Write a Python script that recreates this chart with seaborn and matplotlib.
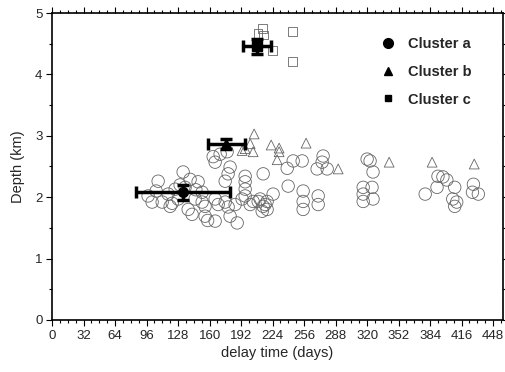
import matplotlib
matplotlib.use("Agg")
import matplotlib.pyplot as plt
import seaborn as sns
import pandas as pd
from matplotlib.lines import Line2D
from matplotlib.ticker import MultipleLocator

# ---------------- data ----------------
a_time = [97.5, 101.6, 107.7, 111.8, 105.7, 119.9, 125.0, 117.9, 128.0, 133.1,
          140.2, 138.2, 145.3, 152.4, 135.1, 142.2, 148.3, 152.4, 155.4, 155.4,
          163.6, 170.7, 177.8, 165.6, 165.6, 168.7, 165.6, 175.8, 178.8, 180.8,
          180.8, 178.8, 175.8, 185.9, 193.0, 196.1, 196.1, 196.1, 196.1, 201.2,
          204.2, 211.3, 214.4, 218.4, 224.5, 218.4, 213.4, 214.4, 209.3, 216.4,
          238.8, 244.9, 254.0, 239.8, 255.0, 255.0, 255.0, 269.2, 274.3, 275.3,
          279.4, 270.3, 270.3, 320.0, 323.0, 326.0, 316.0, 325.0, 316.0, 316.0,
          326.0, 379.0, 391.0, 392.0, 397.0, 401.0, 409.0, 407.0, 411.0, 409.0,
          428.0, 427.0, 433.0, 130.0, 122.0, 146.0, 158.0, 188.0]
a_depth = [2.02, 1.92, 2.26, 1.92, 2.10, 1.85, 2.13, 2.05, 1.97, 2.41,
           2.29, 1.80, 1.97, 1.92, 2.16, 1.72, 2.25, 2.08, 1.85, 1.69,
           2.66, 2.70, 2.74, 2.57, 1.97, 1.88, 1.61, 1.92, 1.84, 1.69,
           2.49, 2.38, 2.26, 1.88, 1.97, 2.02, 2.34, 2.25, 2.13, 1.88,
           1.93, 1.97, 1.85, 1.93, 2.05, 1.80, 1.77, 2.38, 1.93, 1.88,
           2.47, 2.59, 2.59, 2.18, 2.10, 1.93, 1.80, 2.46, 2.57, 2.67,
           2.46, 2.02, 1.88, 2.62, 2.59, 2.41, 2.16, 2.16, 2.05, 1.93,
           1.97, 2.05, 2.16, 2.34, 2.33, 2.28, 2.16, 1.97, 1.92, 1.85,
           2.21, 2.08, 2.05, 2.20, 1.90, 2.12, 1.62, 1.58]

b_time = [205.2, 196.1, 201.2, 204.2, 222.5, 230.6, 230.6, 228.6, 258.0,
          290.6, 342.4, 386.0, 428.8, 193.0]
b_depth = [3.03, 2.79, 2.87, 2.74, 2.85, 2.80, 2.74, 2.61, 2.88,
           2.46, 2.57, 2.57, 2.54, 2.76]

c_time = [209.0, 214.0, 215.0, 224.0, 244.0, 244.0]
c_depth = [4.67, 4.75, 4.64, 4.39, 4.70, 4.21]

mean_time = [133.0, 177.0, 208.0]
mean_depth = [2.08, 2.87, 4.46]
mean_time_err = [48.0, 19.0, 14.0]
mean_depth_err = [0.12, 0.08, 0.12]
mean_markers = ["o", "^", "s"]

legend_labels = ["Cluster a", "Cluster b", "Cluster c"]
xticks = list(range(0, 449, 32))
yticks = [0, 1, 2, 3, 4, 5]

# ---------------- plot ----------------
sns.set_theme(style="ticks")
plt.rcParams["font.family"] = ["Liberation Sans", "DejaVu Sans"]

fig = plt.figure(figsize=(5.06, 3.72), dpi=100)
ax = fig.add_axes([0.103, 0.140, 0.891, 0.825])

da = pd.DataFrame({"t": a_time, "d": a_depth})
db = pd.DataFrame({"t": b_time, "d": b_depth})
dc = pd.DataFrame({"t": c_time, "d": c_depth})

sns.scatterplot(data=da, x="t", y="d", marker="o", s=80, facecolor="none",
                edgecolor="0.4", linewidth=0.6, ax=ax, zorder=2)
sns.scatterplot(data=db, x="t", y="d", marker="^", s=50, facecolor="none",
                edgecolor="0.4", linewidth=0.6, ax=ax, zorder=2)
sns.scatterplot(data=dc, x="t", y="d", marker="s", s=38, facecolor="none",
                edgecolor="0.4", linewidth=0.6, ax=ax, zorder=2)

for t, d, te, de, m in zip(mean_time, mean_depth, mean_time_err,
                           mean_depth_err, mean_markers):
    ax.errorbar(t, d, xerr=te, yerr=de, fmt=m, color="black", ms=7,
                elinewidth=2.5, capsize=4, capthick=2.5, zorder=5)

ax.set_xlim(0, 458)
ax.set_ylim(0, 5)
ax.set_xticks(xticks)
ax.set_yticks(yticks)
ax.xaxis.set_minor_locator(MultipleLocator(8))
ax.yaxis.set_minor_locator(MultipleLocator(0.5))
ax.tick_params(which="both", direction="out", top=True, right=True,
               labeltop=False, labelright=False, color="black", width=0.8)
ax.tick_params(which="major", length=4, labelsize=9.5, pad=3)
ax.tick_params(which="minor", length=2)
for sp in ax.spines.values():
    sp.set_linewidth(1.2)
    sp.set_color("black")

ax.set_xlabel("delay time (days)", fontsize=10.5, labelpad=3)
ax.set_ylabel("Depth (km)", fontsize=10.5, labelpad=7)

handles = [Line2D([], [], marker=m, ls="none", color="black", ms=ms)
           for m, ms in zip(mean_markers, [7, 5.5, 5])]
leg = ax.legend(handles, legend_labels, loc="upper right", frameon=False,
                bbox_to_anchor=(0.96, 0.965), handletextpad=0.9,
                labelspacing=0.95, prop={"weight": "bold", "size": 10.5},
                handlelength=1.0)

fig.savefig("out.png", dpi=100)
